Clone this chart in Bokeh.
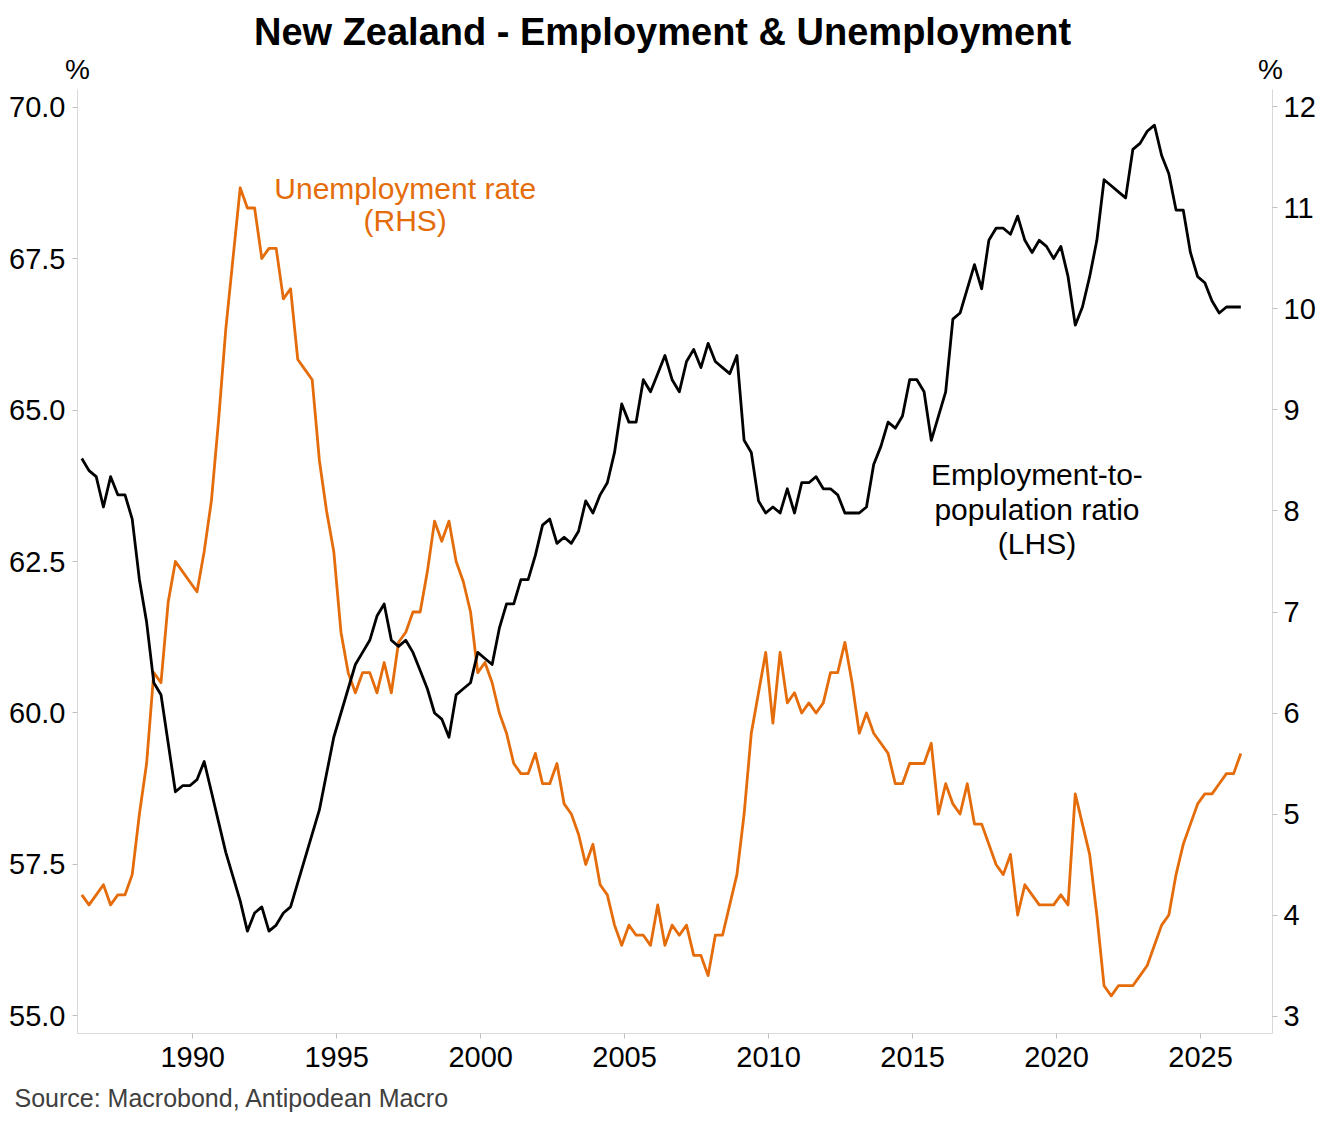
from bokeh.plotting import figure
from bokeh.layouts import column
from bokeh.models import Range1d, LinearAxis, FixedTicker, NumeralTickFormatter, Label
from bokeh.core.properties import value
from bokeh.embed import file_html
from bokeh.resources import INLINE

# ---------------- data (quarterly) ----------------
start_year = 1986.15   # first quarter plotted
step = 0.25

employment_ratio = [
    64.2, 64.0, 63.9, 63.4, 63.9, 63.6, 63.6, 63.2, 62.2, 61.5,
    60.5, 60.3, 59.5, 58.7, 58.8, 58.8, 58.9, 59.2, 58.7, 58.2,
    57.7, 57.3, 56.9, 56.4, 56.7, 56.8, 56.4, 56.5, 56.7, 56.8,
    57.2, 57.6, 58.0, 58.4, 59.0, 59.6, 60.0, 60.4, 60.8, 61.0,
    61.2, 61.6, 61.8, 61.2, 61.1, 61.2, 61.0, 60.7, 60.4, 60.0,
    59.9, 59.6, 60.3, 60.4, 60.5, 61.0, 60.9, 60.8, 61.4, 61.8,
    61.8, 62.2, 62.2, 62.6, 63.1, 63.2, 62.8, 62.9, 62.8, 63.0,
    63.5, 63.3, 63.6, 63.8, 64.3, 65.1, 64.8, 64.8, 65.5, 65.3,
    65.6, 65.9, 65.5, 65.3, 65.8, 66.0, 65.7, 66.1, 65.8, 65.7,
    65.6, 65.9, 64.5, 64.3, 63.5, 63.3, 63.4, 63.3, 63.7, 63.3,
    63.8, 63.8, 63.9, 63.7, 63.7, 63.6, 63.3, 63.3, 63.3, 63.4,
    64.1, 64.4, 64.8, 64.7, 64.9, 65.5, 65.5, 65.3, 64.5, 64.9,
    65.3, 66.5, 66.6, 67.0, 67.4, 67.0, 67.8, 68.0, 68.0, 67.9,
    68.2, 67.8, 67.6, 67.8, 67.7, 67.5, 67.7, 67.2, 66.4, 66.7,
    67.2, 67.8, 68.8, 68.7, 68.6, 68.5, 69.3, 69.4, 69.6, 69.7,
    69.2, 68.9, 68.3, 68.3, 67.6, 67.2, 67.1, 66.8, 66.6, 66.7,
    66.7, 66.7,
]

unemployment_rate = [
    4.2, 4.1, 4.2, 4.3, 4.1, 4.2, 4.2, 4.4, 5.0, 5.5,
    6.4, 6.3, 7.1, 7.5, 7.4, 7.3, 7.2, 7.6, 8.1, 8.9,
    9.8, 10.5, 11.2, 11.0, 11.0, 10.5, 10.6, 10.6, 10.1, 10.2,
    9.5, 9.4, 9.3, 8.5, 8.0, 7.6, 6.8, 6.4, 6.2, 6.4,
    6.4, 6.2, 6.5, 6.2, 6.7, 6.8, 7.0, 7.0, 7.4, 7.9,
    7.7, 7.9, 7.5, 7.3, 7.0, 6.4, 6.5, 6.3, 6.0, 5.8,
    5.5, 5.4, 5.4, 5.6, 5.3, 5.3, 5.5, 5.1, 5.0, 4.8,
    4.5, 4.7, 4.3, 4.2, 3.9, 3.7, 3.9, 3.8, 3.8, 3.7,
    4.1, 3.7, 3.9, 3.8, 3.9, 3.6, 3.6, 3.4, 3.8, 3.8,
    4.1, 4.4, 5.0, 5.8, 6.2, 6.6, 5.9, 6.6, 6.1, 6.2,
    6.0, 6.1, 6.0, 6.1, 6.4, 6.4, 6.7, 6.3, 5.8, 6.0,
    5.8, 5.7, 5.6, 5.3, 5.3, 5.5, 5.5, 5.5, 5.7, 5.0,
    5.3, 5.1, 5.0, 5.3, 4.9, 4.9, 4.7, 4.5, 4.4, 4.6,
    4.0, 4.3, 4.2, 4.1, 4.1, 4.1, 4.2, 4.1, 5.2, 4.9,
    4.6, 4.0, 3.3, 3.2, 3.3, 3.3, 3.3, 3.4, 3.5, 3.7,
    3.9, 4.0, 4.4, 4.7, 4.9, 5.1, 5.2, 5.2, 5.3, 5.4,
    5.4, 5.6,
]

x_ticks = [1990, 1995, 2000, 2005, 2010, 2015, 2020, 2025]
left_ticks = [55.0, 57.5, 60.0, 62.5, 65.0, 67.5, 70.0]
right_ticks = [3, 4, 5, 6, 7, 8, 9, 10, 11, 12]

x_emp = [start_year + step * i for i in range(len(employment_ratio))]
x_unemp = [start_year + step * i for i in range(len(unemployment_rate))]

# ---------------- styling ----------------
FONT = "Liberation Sans"
ORANGE = "#E46C0A"
AXIS_GREY = "#d9d9d9"
TICK_GREY = "#bfbfbf"
W = 1323
HEADER_H = 89
MAIN_H = 986
FOOTER_H = 47


def text_panel(height):
    """A borderless figure whose frame covers the whole canvas (pixel coords)."""
    f = figure(width=W, height=height, output_backend="svg", toolbar_location=None,
               x_range=Range1d(0, W), y_range=Range1d(height, 0),
               x_axis_type=None, y_axis_type=None,
               min_border_left=0, min_border_right=0,
               min_border_top=0, min_border_bottom=0,
               outline_line_color=None, frame_align=False,
               background_fill_color="white", border_fill_color="white")
    f.xgrid.visible = False
    f.ygrid.visible = False
    return f


# ---------------- header: title and unit markers ----------------
header = text_panel(HEADER_H)
header.text(x=[662], y=[31], text=["New Zealand - Employment & Unemployment"],
            text_font=value(FONT), text_font_size=value("38px"),
            text_font_style="bold", text_color="black",
            text_align="center", text_baseline="middle")
header.text(x=[77, 1270], y=[69, 69], text=["%", "%"],
            text_font=value(FONT), text_font_size=value("28px"),
            text_color="black", text_align="center", text_baseline="middle")

# ---------------- main chart ----------------
p = figure(
    width=W, height=MAIN_H,
    output_backend="svg", toolbar_location=None,
    x_range=Range1d(1986.0, 2027.5),
    y_range=Range1d(54.711, 70.289),
    min_border_left=77, min_border_right=51,
    min_border_top=0, min_border_bottom=42,
    outline_line_color=None, frame_align=False,
    background_fill_color="white", border_fill_color="white",
)
p.extra_y_ranges = {"right": Range1d(2.827, 12.173)}
right_axis = LinearAxis(y_range_name="right")
p.add_layout(right_axis, "right")

p.xgrid.visible = False
p.ygrid.visible = False

for ax in [p.xaxis[0], p.yaxis[0], right_axis]:
    ax.axis_line_color = AXIS_GREY
    ax.axis_line_width = 1
    ax.major_tick_line_color = TICK_GREY
    ax.major_tick_in = 0
    ax.major_tick_out = 5
    ax.minor_tick_line_color = None
    ax.major_label_text_font = FONT
    ax.major_label_text_font_size = "29px"
    ax.major_label_text_color = "black"

p.xaxis[0].ticker = FixedTicker(ticks=x_ticks)
p.xaxis[0].major_label_standoff = 8
p.yaxis[0].ticker = FixedTicker(ticks=left_ticks)
p.yaxis[0].formatter = NumeralTickFormatter(format="0.0")
p.yaxis[0].major_label_standoff = 7
right_axis.ticker = FixedTicker(ticks=right_ticks)
right_axis.major_label_standoff = 6

p.line(x_unemp, unemployment_rate, y_range_name="right",
       line_color=ORANGE, line_width=2.8, line_join="round")
p.line(x_emp, employment_ratio,
       line_color="black", line_width=2.8, line_join="round")


def add_label(x, y, text, size, color="black"):
    p.add_layout(Label(x=x, y=y, text=text, text_font=FONT,
                       text_font_size=size, text_color=color,
                       text_align="center", text_baseline="middle"))


add_label(1997.38, 68.66, "Unemployment rate", "30px", color=ORANGE)
add_label(1997.38, 68.12, "(RHS)", "30px", color=ORANGE)
add_label(2019.32, 63.94, "Employment-to-", "30px")
add_label(2019.32, 63.36, "population ratio", "30px")
add_label(2019.32, 62.80, "(LHS)", "30px")

# ---------------- footer: source ----------------
footer = text_panel(FOOTER_H)
footer.text(x=[14], y=[22], text=["Source: Macrobond, Antipodean Macro"],
            text_font=value(FONT), text_font_size=value("25px"),
            text_color="#404040", text_align="left", text_baseline="middle")

layout = column(header, p, footer, spacing=0)
open("out.html", "w").write(file_html(layout, INLINE))
